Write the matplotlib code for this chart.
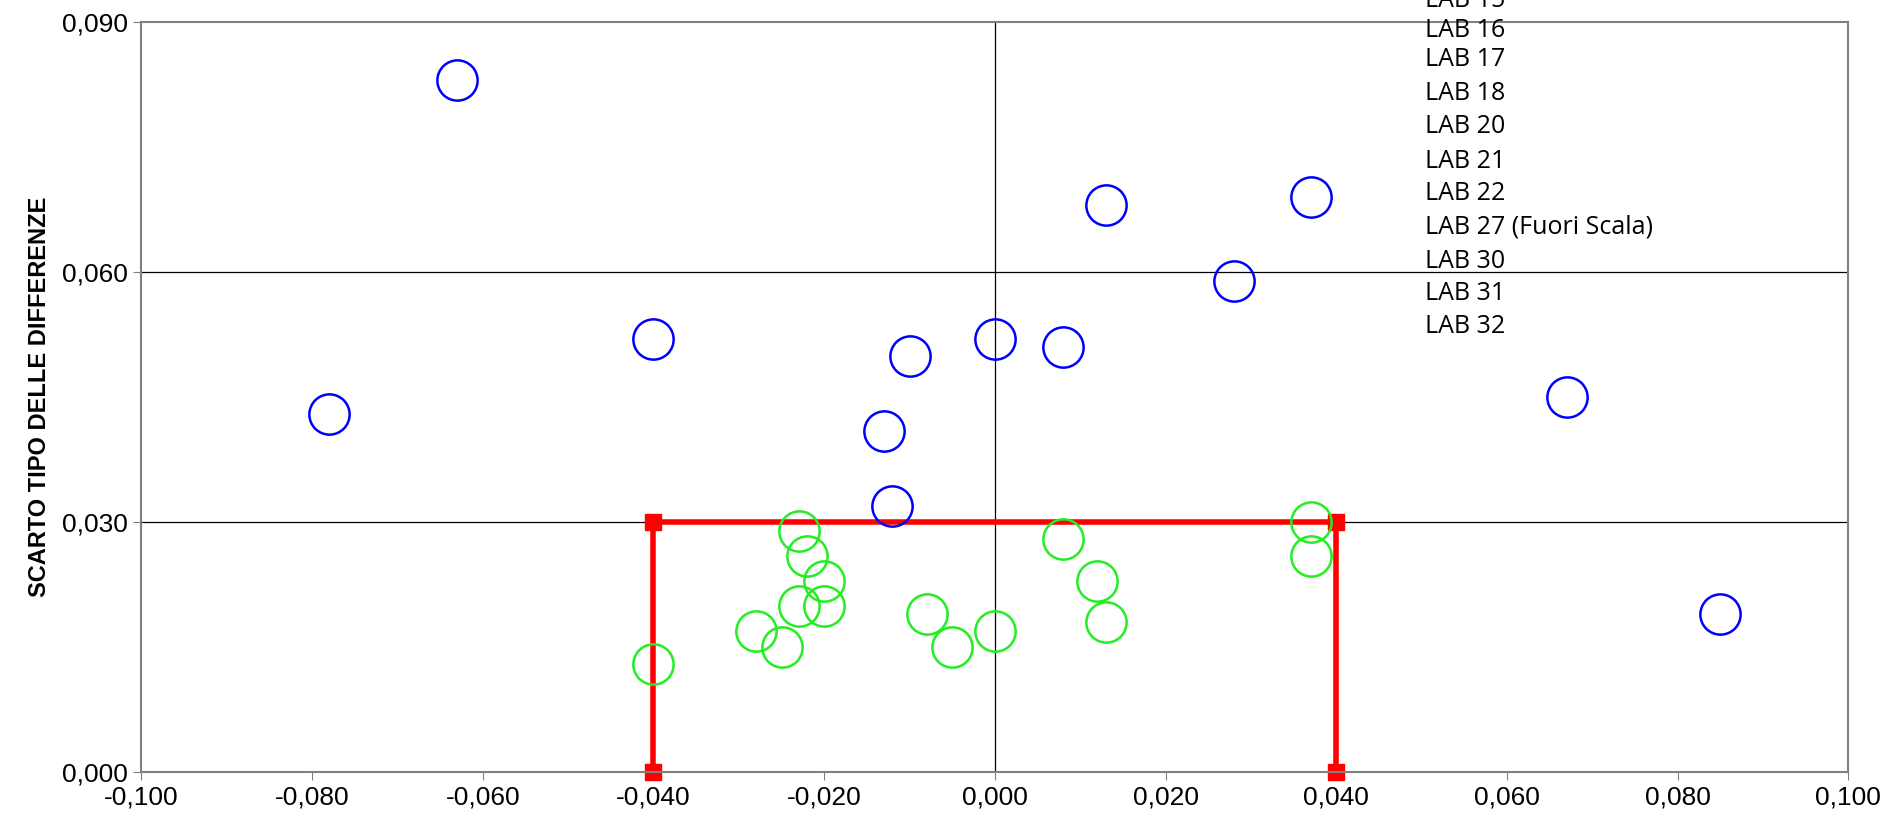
import matplotlib
matplotlib.use("Agg")
import matplotlib.pyplot as plt
from matplotlib.ticker import FuncFormatter

# labs outside the limits (blue) and inside (green)
out_x = [-0.063, -0.078, -0.040, -0.010, -0.013, -0.012, 0.000, 0.008, 0.013, 0.028, 0.037, 0.067, 0.085]
out_y = [0.083, 0.043, 0.052, 0.050, 0.041, 0.032, 0.052, 0.051, 0.068, 0.059, 0.069, 0.045, 0.019]
in_x = [-0.040, -0.028, -0.025, -0.023, -0.022, -0.023, -0.020, -0.020, -0.008, -0.005, 0.000, 0.008, 0.012, 0.013, 0.037, 0.037]
in_y = [0.013, 0.017, 0.015, 0.029, 0.026, 0.020, 0.023, 0.020, 0.019, 0.015, 0.017, 0.028, 0.023, 0.018, 0.030, 0.026]

# acceptance box
box_x = [-0.040, -0.040, 0.040, 0.040]
box_y = [0.000, 0.030, 0.030, 0.000]

labels = ["LAB 15", "LAB 16", "LAB 17", "LAB 18", "LAB 20", "LAB 21", "LAB 22",
          "LAB 27 (Fuori Scala)", "LAB 30", "LAB 31", "LAB 32"]
label_y = [0.0926, 0.0890, 0.0855, 0.0814, 0.0775, 0.0733, 0.0694, 0.0654, 0.0613, 0.0574, 0.0535]
label_x = 0.0504

fig = plt.figure(figsize=(18.86, 8.19), dpi=100)
ax = fig.add_axes([0.075, 0.057, 0.905, 0.916])
ax.set_xlim(-0.1, 0.1)
ax.set_ylim(0, 0.09)
ax.set_xticks([-0.1 + 0.02 * i for i in range(11)])
ax.set_yticks([0, 0.03, 0.06, 0.09])
fmt = FuncFormatter(lambda v, p: ("%.3f" % v).replace(".", ",").replace("-0,000", "0,000"))
ax.xaxis.set_major_formatter(fmt)
ax.yaxis.set_major_formatter(fmt)
ax.tick_params(labelsize=19, direction="out", length=6, color="gray")
for t in ax.get_xticklabels() + ax.get_yticklabels():
    t.set_family("Liberation Sans")
    t.set_stretch("condensed")
for s in ax.spines.values():
    s.set_color("gray")
    s.set_linewidth(1.5)

for yy in [0.03, 0.06]:
    ax.axhline(yy, color="black", lw=0.9, zorder=1)
ax.axvline(0, color="black", lw=0.9, zorder=1)

ax.plot(box_x, box_y, color="red", lw=4, marker="s", ms=11, zorder=2, clip_on=False)
ax.plot(out_x, out_y, "o", mfc="none", mec="blue", ms=29, mew=1.8, zorder=3)
ax.plot(in_x, in_y, "o", mfc="none", mec="#22ee22", ms=29, mew=1.8, zorder=3)

for lab, yy in zip(labels, label_y):
    ax.text(label_x, yy, lab, fontsize=18, family="Open Sans", va="center", ha="left", clip_on=False)

ax.set_ylabel("SCARTO TIPO DELLE DIFFERENZE", fontsize=17, fontweight="bold",
              family="Liberation Sans", labelpad=8)

fig.savefig("out.png", dpi=100)
